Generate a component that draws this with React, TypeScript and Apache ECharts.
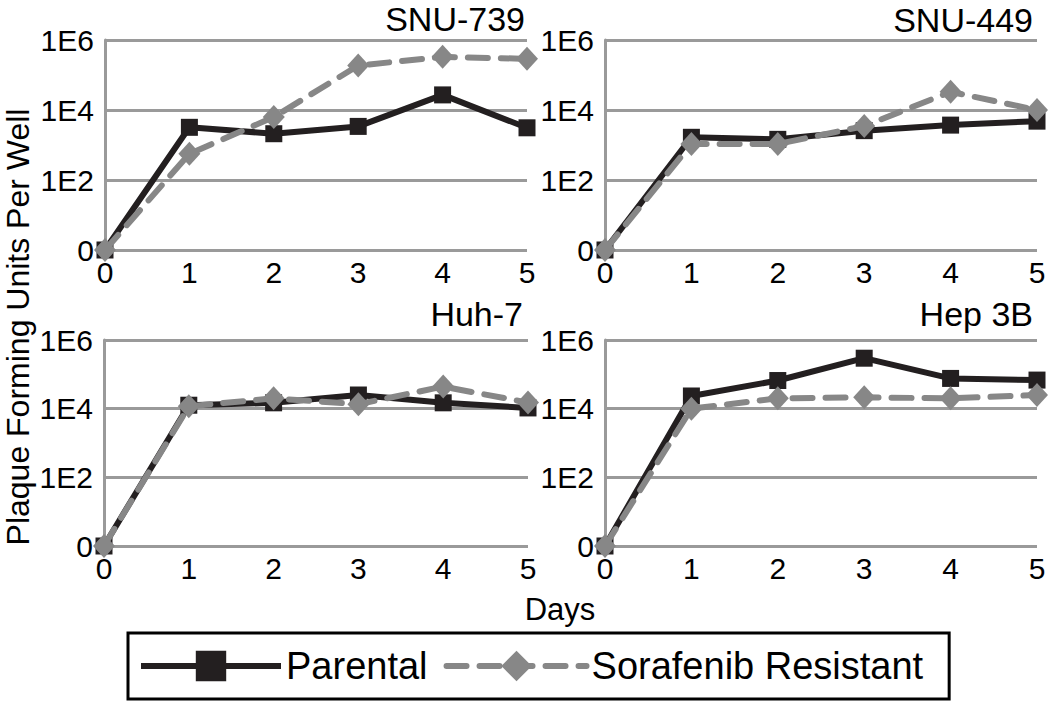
import React, { useEffect, useRef } from "react";
import * as echarts from "echarts";

// Days post infection (x axis categories)
const days = ["0", "1", "2", "3", "4", "5"];
const panelTitles = ["SNU-739", "SNU-449", "Huh-7", "Hep 3B"];
const seriesNames = ["Parental", "Sorafenib Resistant"];
// y tick values in decades (log10 PFU), labels as printed
const yTickDecades = [0, 2, 4, 6];
const yTickLabels = ["0", "1E2", "1E4", "1E6"];

// Plaque forming units per well (0 at day 0 is drawn on the "0" baseline)
const snu739Parental = [0, 3200, 2100, 3400, 27000, 3100];
const snu739Resistant = [0, 560, 6300, 186000, 330000, 290000];
const snu449Parental = [0, 1660, 1450, 2570, 3700, 4800];
const snu449Resistant = [0, 1070, 1070, 3470, 33000, 10000];
const huh7Parental = [0, 12600, 14800, 25000, 14800, 10500];
const huh7Resistant = [0, 11700, 20000, 13500, 44000, 15000];
const hep3bParental = [0, 23400, 66000, 295000, 76000, 68000];
const hep3bResistant = [0, 10000, 20000, 21400, 20000, 25000];

const panelData = [
  [snu739Parental, snu739Resistant],
  [snu449Parental, snu449Resistant],
  [huh7Parental, huh7Resistant],
  [hep3bParental, hep3bResistant],
];

const FONT = "'Liberation Sans', Arial, sans-serif";
const GRID_COLOR = "#9a9a9a";
const PARENTAL_COLOR = "#231f20";
const RESISTANT_COLOR = "#878787";

const toLog = (v: number) => (v > 0 ? Math.log10(v) : 0);

export default function App() {
  const ref = useRef<HTMLDivElement>(null);

  useEffect(() => {
    if (!ref.current) return;
    const chart = echarts.init(ref.current, null, { renderer: "svg" });

    const grids = [
      { left: 105, top: 40, width: 422, height: 210 },
      { left: 605, top: 40, width: 432, height: 210 },
      { left: 104, top: 340, width: 424, height: 206 },
      { left: 605, top: 340, width: 432, height: 206 },
    ];
    const titleRight = [525, 1033, 523, 1033];
    const titleTop = [2, 3, 297, 297];

    const xAxes = grids.map((_, i) => ({
      type: "category",
      gridIndex: i,
      data: days,
      boundaryGap: false,
      axisLine: { show: false },
      axisTick: { show: false },
      splitLine: { show: false },
      axisLabel: { color: "#000", fontSize: 30, fontFamily: FONT, margin: 7 },
    }));

    const yAxes = grids.map((_, i) => ({
      type: "value",
      gridIndex: i,
      min: 0,
      max: 6,
      interval: 2,
      axisLine: { show: true, lineStyle: { color: GRID_COLOR, width: 3 } },
      axisTick: { show: false },
      splitLine: { show: true, lineStyle: { color: GRID_COLOR, width: 3 } },
      axisLabel: {
        color: "#000",
        fontSize: 30,
        fontFamily: FONT,
        margin: 11,
        formatter: (v: number) => {
          const k = yTickDecades.indexOf(v);
          return k >= 0 ? yTickLabels[k] : "";
        },
      },
    }));

    const series: any[] = [];
    panelData.forEach((pair, i) => {
      series.push({
        name: seriesNames[0],
        type: "line",
        xAxisIndex: i,
        yAxisIndex: i,
        data: pair[0].map(toLog),
        symbol: "rect",
        symbolSize: 17,
        showSymbol: true,
        lineStyle: { color: PARENTAL_COLOR, width: 6 },
        itemStyle: { color: PARENTAL_COLOR },
        z: 2,
      });
      series.push({
        name: seriesNames[1],
        type: "line",
        xAxisIndex: i,
        yAxisIndex: i,
        data: pair[1].map(toLog),
        symbol: "diamond",
        symbolSize: [22, 24],
        showSymbol: true,
        lineStyle: { color: RESISTANT_COLOR, width: 6, type: [20, 13], cap: "round" },
        itemStyle: { color: RESISTANT_COLOR },
        z: 3,
      });
    });

    const option: any = {
      animation: false,
      backgroundColor: "#fff",
      textStyle: { fontFamily: FONT },
      title: panelTitles.map((t, i) => ({
        text: t,
        right: 1050 - titleRight[i],
        top: titleTop[i],
        padding: 0,
        textStyle: { color: "#000", fontSize: 34, fontWeight: "normal", fontFamily: FONT },
      })),
      grid: grids,
      xAxis: xAxes,
      yAxis: yAxes,
      series,
      legend: {
        data: seriesNames,
        left: 128,
        top: 633,
        orient: "horizontal",
        borderColor: "#000",
        borderWidth: 3,
        borderRadius: 0,
        padding: [14, 26, 14, 10],
        itemWidth: 140,
        itemHeight: 38,
        itemGap: 16,
        selectedMode: false,
        textStyle: { color: "#000", fontSize: 38, fontFamily: FONT },
        lineStyle: { width: 6 },
      },
      graphic: [
        {
          type: "text",
          x: 18,
          y: 327,
          rotation: Math.PI / 2,
          style: {
            text: "Plaque Forming Units Per Well",
            fill: "#000",
            font: `32px ${FONT}`,
            align: "center",
            verticalAlign: "middle",
          },
        },
        {
          type: "text",
          x: 560,
          y: 609,
          style: {
            text: "Days",
            fill: "#000",
            font: `31px ${FONT}`,
            align: "center",
            verticalAlign: "middle",
          },
        },
      ],
    };

    chart.setOption(option);
    return () => chart.dispose();
  }, []);

  return (
    <div
      ref={ref}
      style={{ position: "absolute", left: 0, top: 0, width: 1050, height: 706 }}
    />
  );
}
